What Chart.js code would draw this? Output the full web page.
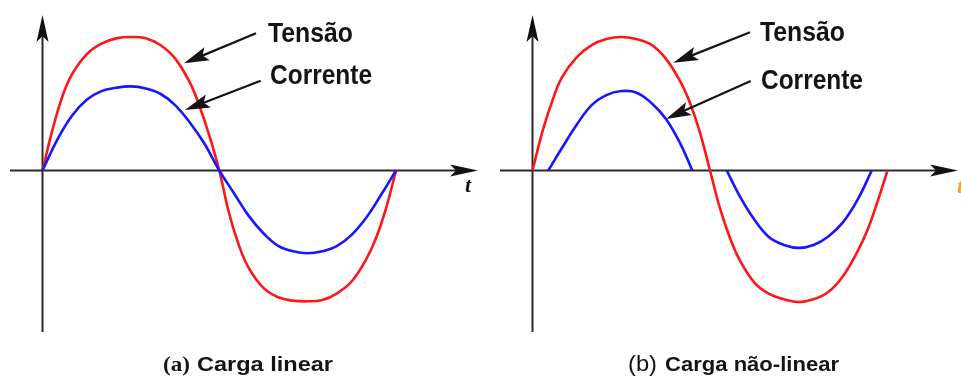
<!DOCTYPE html>
<html>
<head>
<meta charset="utf-8">
<script src="https://cdn.jsdelivr.net/npm/chart.js@4.4.1/dist/chart.umd.min.js"></script>
<style>
  html, body { margin: 0; padding: 0; background: #fff; overflow: hidden; }
  #wrap { position: relative; width: 961px; height: 381px; }
  canvas { position: absolute; top: 0; }
  #cA { left: 0; }
  #cB { left: 490px; }
</style>
</head>
<body>
<div id="wrap">
  <canvas id="cA" width="480" height="381"></canvas>
  <canvas id="cB" width="471" height="381"></canvas>
</div>
<script>
// Phase angle (degrees) and per-unit values, one cycle per panel.

// (a) Linear load: voltage and current in phase
const tensaoA_deg = [0, 10, 20, 30, 45, 60, 75, 90, 105, 120, 135, 150, 160, 170, 180,
                     190, 200, 210, 225, 240, 255, 270, 285, 300, 315, 330, 340, 350, 360];
const tensaoA_pu  = [0, 0.30, 0.55, 0.72, 0.87, 0.95, 0.99, 1.0, 0.99, 0.94, 0.84, 0.66, 0.48, 0.26, 0,
                     -0.32, -0.56, -0.73, -0.88, -0.95, -0.975, -0.98, -0.97, -0.92, -0.83, -0.66, -0.50, -0.28, 0];

const correnteA_deg = [0, 15, 30, 45, 60, 75, 90, 105, 120, 135, 150, 165, 180,
                       195, 210, 225, 240, 255, 270, 285, 300, 315, 330, 345, 360];
const correnteA_pu  = [0, 0.23, 0.41, 0.53, 0.595, 0.62, 0.63, 0.615, 0.575, 0.49, 0.36, 0.2, 0,
                       -0.17, -0.34, -0.47, -0.565, -0.605, -0.62, -0.605, -0.565, -0.48, -0.35, -0.18, 0];

// (b) Non-linear load: current only flows near the voltage peaks
const tensaoB_deg = [0, 10, 20, 30, 45, 60, 75, 90, 105, 120, 135, 150, 160, 170, 180,
                     190, 200, 210, 225, 240, 255, 270, 285, 300, 315, 330, 340, 350, 360];
const tensaoB_pu  = [0, 0.29, 0.52, 0.70, 0.85, 0.94, 0.985, 1.0, 0.985, 0.945, 0.84, 0.665, 0.50, 0.28, 0,
                     -0.28, -0.50, -0.67, -0.84, -0.925, -0.965, -0.985, -0.965, -0.91, -0.79, -0.60, -0.44, -0.23, 0];

const correnteB_deg = [16, 30, 45, 60, 75, 90, 105, 120, 135, 150, 162,
                       180,
                       197, 210, 225, 240, 255, 270, 285, 300, 315, 330, 344];
const correnteB_pu  = [0, 0.17, 0.345, 0.49, 0.565, 0.595, 0.585, 0.51, 0.39, 0.2, 0,
                       null,
                       0, -0.19, -0.368, -0.50, -0.558, -0.58, -0.558, -0.494, -0.387, -0.215, 0];

// Text
const seriesNames = ['Tensão', 'Corrente'];
const axisName = 't';
const captionsA = ['(a)', 'Carga linear'];
const captionsB = ['(b)', 'Carga não-linear'];

const RED = 'rgb(255,22,22)';
const BLUE = 'rgb(22,22,255)';
const INK = '#141414';

function toPoints(xs, ys) {
  return xs.map((x, i) => ({ x: x, y: ys[i] }));
}

// Filled dart-shaped arrowhead with its tip at (x, y), pointing along angle ang
function dart(ctx, x, y, ang, len, half, notch) {
  ctx.save();
  ctx.translate(x, y);
  ctx.rotate(ang);
  ctx.beginPath();
  ctx.moveTo(0, 0);
  ctx.lineTo(-len, -half);
  ctx.lineTo(-len + notch, 0);
  ctx.lineTo(-len, half);
  ctx.closePath();
  ctx.fill();
  ctx.restore();
}

// Draws text starting at (x, y baseline), stretched/condensed to an exact width
function fitText(ctx, text, x, y, width, font, color) {
  ctx.save();
  ctx.font = font;
  ctx.fillStyle = color;
  ctx.textBaseline = 'alphabetic';
  ctx.textAlign = 'left';
  const w = ctx.measureText(text).width || 1;
  ctx.translate(x, y);
  ctx.scale(width / w, 1);
  ctx.fillText(text, 0, 0);
  ctx.restore();
}

const figurePlugin = {
  id: 'figure',
  beforeDatasetsDraw(chart, args, opts) {
    const ctx = chart.ctx;
    const area = chart.chartArea;
    const xs = chart.scales.x, ys = chart.scales.y;
    const x0 = xs.getPixelForValue(0);
    const y0 = ys.getPixelForValue(0);
    ctx.save();
    ctx.strokeStyle = '#2a2a2a';
    ctx.fillStyle = '#111';
    ctx.lineWidth = 2;
    // vertical axis
    ctx.beginPath();
    ctx.moveTo(x0, area.bottom);
    ctx.lineTo(x0, area.top + 14);
    ctx.stroke();
    dart(ctx, x0, area.top, -Math.PI / 2, 27, 6, 6);
    // time axis
    ctx.beginPath();
    ctx.moveTo(area.left, y0);
    ctx.lineTo(area.right - 14, y0);
    ctx.stroke();
    dart(ctx, area.right, y0, 0, 28, 6, 6);
    ctx.restore();
  },
  afterDatasetsDraw(chart, args, opts) {
    const ctx = chart.ctx;
    const xs = chart.scales.x, ys = chart.scales.y;
    const px = v => xs.getPixelForValue(v);
    const py = v => ys.getPixelForValue(v);

    // pointer arrows
    ctx.save();
    ctx.strokeStyle = INK;
    ctx.fillStyle = INK;
    ctx.lineWidth = 2.2;
    opts.arrows.forEach(a => {
      const tx = px(a.from[0]), ty = py(a.from[1]);
      const hx = px(a.to[0]), hy = py(a.to[1]);
      const ang = Math.atan2(hy - ty, hx - tx);
      ctx.beginPath();
      ctx.moveTo(tx, ty);
      ctx.lineTo(hx - Math.cos(ang) * 18, hy - Math.sin(ang) * 18);
      ctx.stroke();
      dart(ctx, hx, hy, ang, 25, 7, 5);
    });
    ctx.restore();

    // series labels
    opts.labels.forEach(l => {
      fitText(ctx, l.text, px(l.x), py(l.y), l.w,
        'bold 28px "Liberation Sans Narrow", "Arial Narrow", "Liberation Sans", Arial, sans-serif', INK);
    });

    // axis letter
    const t = opts.axisLabel;
    ctx.save();
    ctx.font = 'italic bold 22px "Liberation Serif", "Times New Roman", serif';
    ctx.fillStyle = t.color;
    ctx.textBaseline = 'alphabetic';
    ctx.fillText(t.text, t.left, t.base);
    ctx.restore();

    // caption below the panel
    const c = opts.caption;
    fitText(ctx, c.tag, c.tagLeft, c.base, c.tagW, c.tagFont, INK);
    fitText(ctx, c.text, c.textLeft, c.base, c.textW,
      'bold 21px "Liberation Sans", Arial, sans-serif', INK);
  }
};

function makeChart(canvasId, tensao, corrente, xRange, fig) {
  return new Chart(document.getElementById(canvasId), {
    type: 'line',
    data: {
      datasets: [
        {
          label: seriesNames[1],
          data: corrente,
          borderColor: BLUE,
          borderWidth: 2.6,
          pointRadius: 0,
          fill: false,
          spanGaps: false,
          tension: 0.4
        },
        {
          label: seriesNames[0],
          data: tensao,
          borderColor: RED,
          borderWidth: 2.6,
          pointRadius: 0,
          fill: false,
          tension: 0.4
        }
      ]
    },
    options: {
      responsive: false,
      animation: false,
      devicePixelRatio: 1,
      layout: { padding: { left: 10, right: fig.padRight, top: 15, bottom: 49 } },
      scales: {
        x: { type: 'linear', min: xRange[0], max: xRange[1], display: false },
        y: { type: 'linear', min: -1.21, max: 1.165, display: false }
      },
      plugins: {
        legend: { display: false },
        tooltip: { enabled: false },
        figure: fig
      }
    },
    plugins: [figurePlugin]
  });
}

makeChart('cA',
  toPoints(tensaoA_deg, tensaoA_pu),
  toPoints(correnteA_deg, correnteA_pu),
  [-33.1, 443.5],
  {
    padRight: 2,
    arrows: [
      { from: [217.4, 1.028], to: [144.1, 0.803] },
      { from: [222.2, 0.673], to: [145.1, 0.453] }
    ],
    labels: [
      { text: seriesNames[0], x: 229.6, y: 0.960, w: 85 },
      { text: seriesNames[1], x: 231.7, y: 0.648, w: 102 }
    ],
    axisLabel: { text: axisName, left: 465, base: 192, color: '#10102a' },
    caption: {
      tag: captionsA[0], tagLeft: 163, tagW: 27,
      tagFont: 'bold 22px "Liberation Serif", "Times New Roman", serif',
      text: captionsA[1], textLeft: 197, textW: 136, base: 371
    }
  });

makeChart('cB',
  toPoints(tensaoB_deg, tensaoB_pu),
  toPoints(correnteB_deg, correnteB_pu),
  [-32.96, 431.5],
  {
    padRight: 3,
    arrows: [
      { from: [220.6, 1.035], to: [142.8, 0.807] },
      { from: [221.3, 0.671], to: [135.4, 0.386] }
    ],
    labels: [
      { text: seriesNames[0], x: 230.7, y: 0.972, w: 85 },
      { text: seriesNames[1], x: 231.7, y: 0.614, w: 102 }
    ],
    axisLabel: { text: axisName, left: 467, base: 193, color: '#f0a030' },
    caption: {
      tag: captionsB[0], tagLeft: 138, tagW: 29,
      tagFont: '22px "Liberation Sans", Arial, sans-serif',
      text: captionsB[1], textLeft: 175, textW: 174, base: 371
    }
  });
</script>
</body>
</html>
